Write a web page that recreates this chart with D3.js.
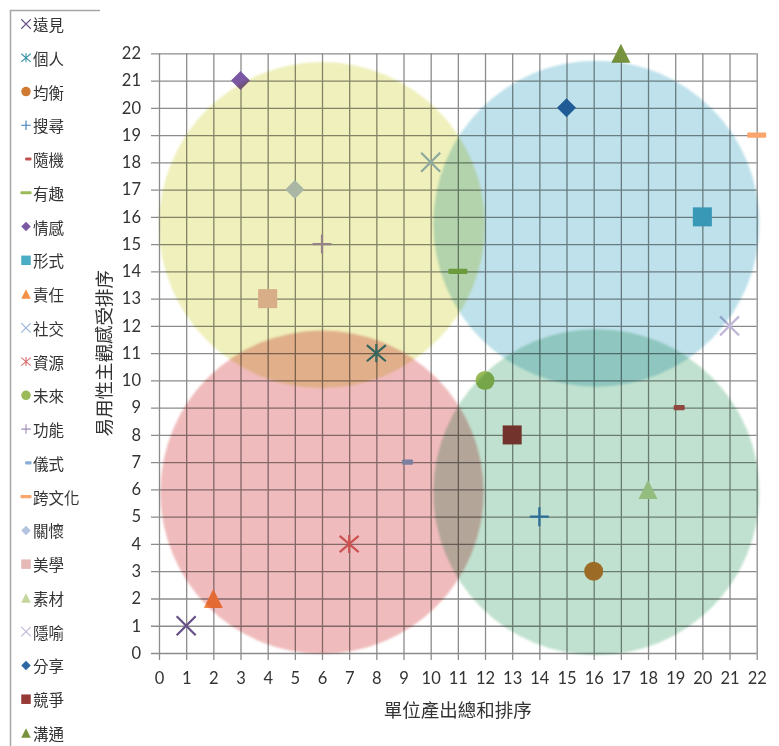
<!DOCTYPE html>
<html>
<head>
<meta charset="utf-8">
<script src="https://cdn.jsdelivr.net/npm/d3@7"></script>
<style>
  html, body { margin: 0; padding: 0; background: #fff; }
  svg { display: block; }
  .tick text { font-family: Lato, "Open Sans", sans-serif; font-size: 16.5px; fill: #333; }
  .cjk { font-family: "Noto Sans CJK TC", "Noto Sans CJK SC", sans-serif; fill: #333; }
</style>
</head>
<body>
<script>
// Series: name, unit-output rank (x), usability rank (y)
const names = ['遠見','個人','均衡','搜尋','隨機','有趣','情感','形式','責任','社交','資源',
               '未來','功能','儀式','跨文化','關懷','美學','素材','隱喻','分享','競爭','溝通'];
const outputRank    = [1, 8, 16, 14, 19, 11, 3, 20, 2, 10, 7, 12, 6, 9, 22, 5, 4, 18, 21, 15, 13, 17];
const usabilityRank = [1, 11, 3, 5, 9, 14, 21, 16, 2, 18, 4, 10, 15, 7, 19, 17, 13, 6, 12, 20, 8, 22];

// Marker shape and colour per series
const markerShape = ['x','asterisk','circle','plus','shortDash','dash','diamond','square','triangle','x','asterisk',
                     'circle','plus','shortDash','dash','diamond','square','triangle','x','diamond','square','triangle'];
const seriesColor = ['#654f86','#3b93aa','#cf7a30','#3a7dba','#c0504d','#9bbb59','#7a58a4','#4bacc6','#f39045','#95b3d7','#d7706e',
                     '#9bbb59','#a08bb8','#86aed8','#f9a56e','#b4c3e0','#e6b9b8','#c3d69b','#c2b6d8','#2c67a3','#973a36','#76923c'];

// Quadrant bubbles (centre in rank units, radius in rank units)
const bubbleX = [6, 16.1, 6, 16.1];
const bubbleY = [15.7, 15.75, 5.9, 5.9];
const bubbleR = [6, 6, 5.95, 6];
const bubbleFill = ['#eff0bb', '#bee1eb', '#f0bbbc', '#c0e1cf'];

// Axis ticks and titles
const xTicks = d3.range(0, 23);
const yTicks = d3.range(0, 23);
const xTitle = '單位產出總和排序';
const yTitle = '易用性主觀感受排序';

const W = 779, H = 746;
const x = d3.scaleLinear().domain([0, 22]).range([159, 756.7]);
const y = d3.scaleLinear().domain([0, 22]).range([653, 53.3]);

const svg = d3.select('body').append('svg').attr('width', W).attr('height', H);
svg.append('rect').attr('width', W).attr('height', H).attr('fill', '#fff');

const defs = svg.append('defs');
defs.append('filter').attr('id', 'soft').attr('x', '-5%').attr('y', '-5%').attr('width', '110%').attr('height', '110%')
  .append('feGaussianBlur').attr('stdDeviation', 0.9);

const plotH = y(0) - y(22);
const plotW = x(22) - x(0);

// Gridlines + axes
const gx = svg.append('g').attr('transform', `translate(0,${y(0)})`)
  .call(d3.axisBottom(x).tickValues(xTicks).tickSize(-plotH).tickPadding(19.5).tickFormat(d3.format('d')));
gx.select('.domain').remove();
gx.selectAll('.tick line').attr('y1', 7).attr('stroke', '#8c8c8c').attr('stroke-width', 1.3);

const gy = svg.append('g').attr('transform', `translate(${x(0)},0)`)
  .call(d3.axisLeft(y).tickValues(yTicks).tickSize(-plotW).tickPadding(18).tickFormat(d3.format('d')));
gy.select('.domain').remove();
gy.selectAll('.tick line').attr('x1', -8).attr('stroke', '#8c8c8c').attr('stroke-width', 1.3);

// Marker drawing
function drawMarker(g, shape, s, color, sw) {
  const h = s / 2;
  switch (shape) {
    case 'x':
      g.append('path').attr('d', `M${-h},${-h}L${h},${h}M${-h},${h}L${h},${-h}`)
        .attr('stroke', color).attr('stroke-width', sw).attr('fill', 'none');
      break;
    case 'asterisk':
      g.append('path').attr('d', `M${-h},${-h*0.85}L${h},${h*0.85}M${-h},${h*0.85}L${h},${-h*0.85}M0,${-h*0.95}L0,${h*0.95}`)
        .attr('stroke', color).attr('stroke-width', sw).attr('fill', 'none');
      break;
    case 'plus':
      g.append('path').attr('d', `M${-h},0L${h},0M0,${-h}L0,${h}`)
        .attr('stroke', color).attr('stroke-width', sw).attr('fill', 'none');
      break;
    case 'circle':
      g.append('circle').attr('r', h).attr('fill', color);
      break;
    case 'square':
      g.append('rect').attr('x', -h).attr('y', -h).attr('width', s).attr('height', s).attr('fill', color);
      break;
    case 'diamond':
      g.append('path').attr('d', `M0,${-h}L${h},0L0,${h}L${-h},0Z`).attr('fill', color);
      break;
    case 'triangle':
      g.append('path').attr('d', `M0,${-h}L${h},${h}L${-h},${h}Z`).attr('fill', color);
      break;
    case 'dash':
      g.append('rect').attr('x', -h).attr('y', -s * 0.14).attr('width', s).attr('height', s * 0.28)
        .attr('rx', 1).attr('fill', color);
      break;
    case 'shortDash':
      g.append('rect').attr('x', -s * 0.08).attr('y', -s * 0.14).attr('width', s * 0.58).attr('height', s * 0.28)
        .attr('rx', 1).attr('fill', color);
      break;
  }
}

// Data markers (under the translucent bubbles)
const gm = svg.append('g');
names.forEach((n, i) => {
  const g = gm.append('g').attr('transform', `translate(${x(outputRank[i])},${y(usabilityRank[i])})`);
  drawMarker(g, markerShape[i], 19, seriesColor[i], 2.2);
});

// Quadrant bubbles
const gb = svg.append('g');
gb.selectAll('circle').data(bubbleX).join('circle')
  .attr('cx', (d, i) => x(d))
  .attr('cy', (d, i) => y(bubbleY[i]))
  .attr('r', (d, i) => x(bubbleR[i]) - x(0))
  .attr('fill', (d, i) => bubbleFill[i])
  .attr('filter', 'url(#soft)')
  .style('mix-blend-mode', 'multiply');

// Axis titles
svg.append('text').attr('class', 'cjk').attr('x', (x(0) + x(22)) / 2).attr('y', 709)
  .attr('text-anchor', 'middle').attr('dominant-baseline', 'central').style('font-size', '18.5px').text(xTitle);
svg.append('text').attr('class', 'cjk')
  .attr('transform', `translate(103,${(y(0) + y(22)) / 2}) rotate(-90)`)
  .attr('text-anchor', 'middle').attr('dominant-baseline', 'central').style('font-size', '18.5px').text(yTitle);

// Legend
svg.append('path').attr('d', 'M10.5,746V10.5H100').attr('fill', 'none').attr('stroke', '#a6a6a6').attr('stroke-width', 1.5);
const gl = svg.append('g');
names.forEach((n, i) => {
  const cy = 24 + i * 33.76;
  const g = gl.append('g').attr('transform', `translate(26,${cy})`);
  drawMarker(g, markerShape[i], markerShape[i].endsWith('ash') ? 11 : 9.5, seriesColor[i], 1.1);
  gl.append('text').attr('class', 'cjk').attr('x', 33).attr('y', cy)
    .attr('dominant-baseline', 'central').style('font-size', '15.5px').text(n);
});
</script>
</body>
</html>
